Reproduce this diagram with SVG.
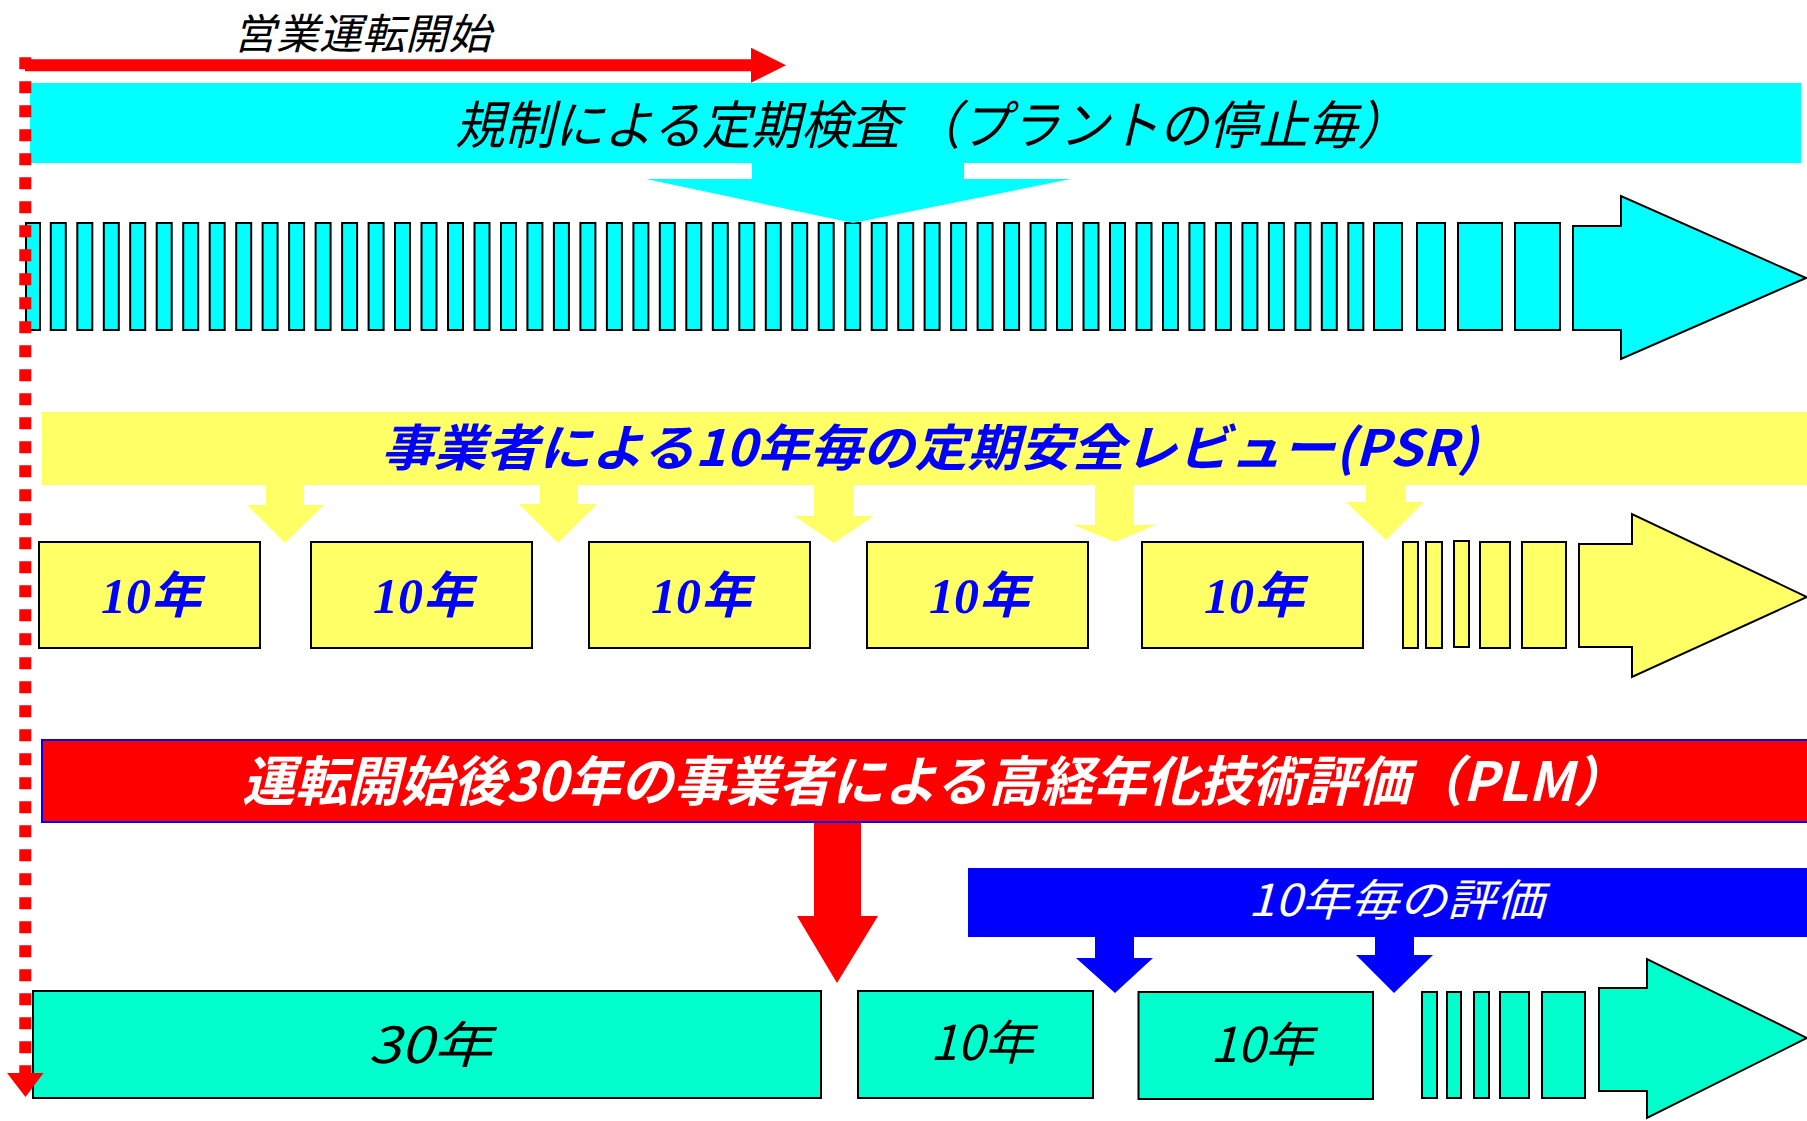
<svg xmlns="http://www.w3.org/2000/svg" width="1807" height="1121" viewBox="0 0 1807 1121">
<style>
.jp{font-family:"Noto Sans CJK JP","Noto Sans CJK SC",sans-serif;font-style:italic}
.ser{font-family:"Liberation Serif","Noto Sans CJK JP",serif;font-style:italic;font-weight:bold;fill:#0000FF;font-size:50px}
.cy{fill:#00FFFF;stroke:#000;stroke-width:2}
.ye{fill:#FFFF66;stroke:#000;stroke-width:2}
.gr{fill:#00FFCC;stroke:#000;stroke-width:2}
</style>
<rect width="1807" height="1121" fill="#fff"/>

<g id="regulation-band">
<rect x="30" y="83" width="1771" height="80" fill="#00FFFF"/>
<text class="jp" x="455" y="144" font-size="52" fill="#000" textLength="952" lengthAdjust="spacingAndGlyphs">規制による定期検査 （プラントの停止毎）</text>
</g>

<g id="inspection-bars">
<rect class="cy" x="26" y="223" width="14" height="107"/>
<rect class="cy" x="50.8" y="223" width="15" height="107"/>
<rect class="cy" x="77.3" y="223" width="15" height="107"/>
<rect class="cy" x="103.8" y="223" width="15" height="107"/>
<rect class="cy" x="130.2" y="223" width="15" height="107"/>
<rect class="cy" x="156.7" y="223" width="15" height="107"/>
<rect class="cy" x="183.2" y="223" width="15" height="107"/>
<rect class="cy" x="209.7" y="223" width="15" height="107"/>
<rect class="cy" x="236.2" y="223" width="15" height="107"/>
<rect class="cy" x="262.6" y="223" width="15" height="107"/>
<rect class="cy" x="289.1" y="223" width="15" height="107"/>
<rect class="cy" x="315.6" y="223" width="15" height="107"/>
<rect class="cy" x="342.1" y="223" width="15" height="107"/>
<rect class="cy" x="368.6" y="223" width="15" height="107"/>
<rect class="cy" x="395.0" y="223" width="15" height="107"/>
<rect class="cy" x="421.5" y="223" width="15" height="107"/>
<rect class="cy" x="448.0" y="223" width="15" height="107"/>
<rect class="cy" x="474.5" y="223" width="15" height="107"/>
<rect class="cy" x="501.0" y="223" width="15" height="107"/>
<rect class="cy" x="527.4" y="223" width="15" height="107"/>
<rect class="cy" x="553.9" y="223" width="15" height="107"/>
<rect class="cy" x="580.4" y="223" width="15" height="107"/>
<rect class="cy" x="606.9" y="223" width="15" height="107"/>
<rect class="cy" x="633.4" y="223" width="15" height="107"/>
<rect class="cy" x="659.8" y="223" width="15" height="107"/>
<rect class="cy" x="686.3" y="223" width="15" height="107"/>
<rect class="cy" x="712.8" y="223" width="15" height="107"/>
<rect class="cy" x="739.3" y="223" width="15" height="107"/>
<rect class="cy" x="765.8" y="223" width="15" height="107"/>
<rect class="cy" x="792.2" y="223" width="15" height="107"/>
<rect class="cy" x="818.7" y="223" width="15" height="107"/>
<rect class="cy" x="845.2" y="223" width="15" height="107"/>
<rect class="cy" x="871.7" y="223" width="15" height="107"/>
<rect class="cy" x="898.2" y="223" width="15" height="107"/>
<rect class="cy" x="924.6" y="223" width="15" height="107"/>
<rect class="cy" x="951.1" y="223" width="15" height="107"/>
<rect class="cy" x="977.6" y="223" width="15" height="107"/>
<rect class="cy" x="1004.1" y="223" width="15" height="107"/>
<rect class="cy" x="1030.6" y="223" width="15" height="107"/>
<rect class="cy" x="1057.0" y="223" width="15" height="107"/>
<rect class="cy" x="1083.5" y="223" width="15" height="107"/>
<rect class="cy" x="1110.0" y="223" width="15" height="107"/>
<rect class="cy" x="1136.5" y="223" width="15" height="107"/>
<rect class="cy" x="1163.0" y="223" width="15" height="107"/>
<rect class="cy" x="1189.4" y="223" width="15" height="107"/>
<rect class="cy" x="1215.9" y="223" width="15" height="107"/>
<rect class="cy" x="1242.4" y="223" width="15" height="107"/>
<rect class="cy" x="1268.9" y="223" width="15" height="107"/>
<rect class="cy" x="1295.4" y="223" width="15" height="107"/>
<rect class="cy" x="1321.8" y="223" width="15" height="107"/>
<rect class="cy" x="1348.3" y="223" width="15" height="107"/>
<rect class="cy" x="1374" y="223" width="28" height="107"/>
<rect class="cy" x="1417" y="223" width="28" height="107"/>
<rect class="cy" x="1458" y="223" width="44" height="107"/>
<rect class="cy" x="1515" y="223" width="45" height="107"/>
<polygon class="cy" points="1573,226 1621,226 1621,196 1806,278 1621,359 1621,330 1573,330"/>
</g>

<g id="psr-band">
<rect x="42" y="412" width="1765" height="73" fill="#FFFF66"/>
<text class="jp" x="381" y="466" font-size="50" font-weight="bold" fill="#0000FF" textLength="1097" lengthAdjust="spacingAndGlyphs">事業者による10年毎の定期安全レビュー(PSR)</text>
</g>

<g id="psr-box-1"><rect class="ye" x="39" y="542" width="221" height="106"/><text class="ser" x="151" y="613" text-anchor="middle">10年</text></g>
<g id="psr-box-2"><rect class="ye" x="311" y="542" width="221" height="106"/><text class="ser" x="423" y="613" text-anchor="middle">10年</text></g>
<g id="psr-box-3"><rect class="ye" x="589" y="542" width="221" height="106"/><text class="ser" x="701" y="613" text-anchor="middle">10年</text></g>
<g id="psr-box-4"><rect class="ye" x="867" y="542" width="221" height="106"/><text class="ser" x="979" y="613" text-anchor="middle">10年</text></g>
<g id="psr-box-5"><rect class="ye" x="1142" y="542" width="221" height="106"/><text class="ser" x="1254" y="613" text-anchor="middle">10年</text></g>
<g id="psr-continue">
<rect class="ye" x="1403" y="542" width="15" height="106"/>
<rect class="ye" x="1426" y="542" width="16" height="106"/>
<rect class="ye" x="1454" y="541" width="15" height="106"/>
<rect class="ye" x="1480" y="542" width="30" height="106"/>
<rect class="ye" x="1522" y="542" width="44" height="106"/>
<polygon class="ye" points="1579,544 1632,544 1632,514 1807,597 1632,677 1632,647 1579,647"/>
</g>

<g id="plm-band">
<rect x="42" y="740" width="1767" height="82" fill="#FF0000" stroke="#0000FF" stroke-width="2"/>
<text class="jp" x="242" y="801" font-size="54" font-weight="bold" fill="#fff" textLength="1384" lengthAdjust="spacingAndGlyphs">運転開始後30年の事業者による高経年化技術評価（PLM）</text>
</g>

<g id="ten-year-eval-band">
<rect x="968" y="868" width="839" height="69" fill="#0000FF"/>
<text class="jp" x="1248" y="916" font-size="44" fill="#fff" textLength="296" lengthAdjust="spacingAndGlyphs">10年毎の評価</text>
</g>

<g id="plm-box-30"><rect class="gr" x="33" y="991" width="788" height="107"/><text class="jp" x="368" y="1063" font-size="50" fill="#000" textLength="124" lengthAdjust="spacingAndGlyphs">30年</text></g>
<g id="plm-box-10a"><rect class="gr" x="858" y="991" width="235" height="107"/><text class="jp" x="930" y="1060" font-size="48" fill="#000" textLength="104" lengthAdjust="spacingAndGlyphs">10年</text></g>
<g id="plm-box-10b"><rect class="gr" x="1138.5" y="992" width="234.5" height="107"/><text class="jp" x="1210" y="1062" font-size="48" fill="#000" textLength="104" lengthAdjust="spacingAndGlyphs">10年</text></g>
<g id="plm-continue">
<rect class="gr" x="1422" y="992" width="15" height="106"/>
<rect class="gr" x="1447" y="992" width="14" height="106"/>
<rect class="gr" x="1474" y="992" width="15" height="106"/>
<rect class="gr" x="1500" y="992" width="29" height="106"/>
<rect class="gr" x="1542" y="992" width="43" height="106"/>
<polygon class="gr" points="1599,988 1647,988 1647,959 1807,1038 1647,1118 1647,1091 1599,1091"/>
</g>

<g id="start-label">
<text class="jp" x="233" y="49" font-size="42" fill="#000" textLength="258" lengthAdjust="spacingAndGlyphs">営業運転開始</text>
</g>

<g id="connectors">
<polygon fill="#00FFFF" points="752,162 964,162 964,179 1071,179 853,223 646,179 752,179"/>
<polygon fill="#FFFF66" points="266,484 304,484 304,505 324,505 285,543 247,505 266,505"/>
<polygon fill="#FFFF66" points="540,484 578,484 578,504 597,504 558,543 519,504 540,504"/>
<polygon fill="#FFFF66" points="814,484 853,484 853,516 874,516 834,543 794,516 814,516"/>
<polygon fill="#FFFF66" points="1095,484 1134,484 1134,525 1156,525 1115,542 1073,525 1095,525"/>
<polygon fill="#FFFF66" points="1366,484 1405,484 1405,502 1424,502 1386,540 1346,502 1366,502"/>
<polygon fill="#FF0000" points="814,823 861,823 861,916 878,916 837,983 797,916 814,916"/>
<polygon fill="#0000FF" points="1095,936 1134,936 1134,958 1153,958 1115,993 1076,958 1095,958"/>
<polygon fill="#0000FF" points="1375,936 1414,936 1414,955 1433,955 1394,993 1356,955 1375,955"/>
<line x1="25" y1="65.3" x2="752" y2="65.3" stroke="#FF0000" stroke-width="12"/>
<polygon fill="#FF0000" points="751,47.7 786,65.3 751,82.7"/>
<line x1="25.3" y1="57.3" x2="25.3" y2="1075" stroke="#FF0000" stroke-width="12" stroke-dasharray="12 12"/>
<polygon fill="#FF0000" points="7,1073 43.5,1073 25.5,1097"/>
</g>
</svg>
